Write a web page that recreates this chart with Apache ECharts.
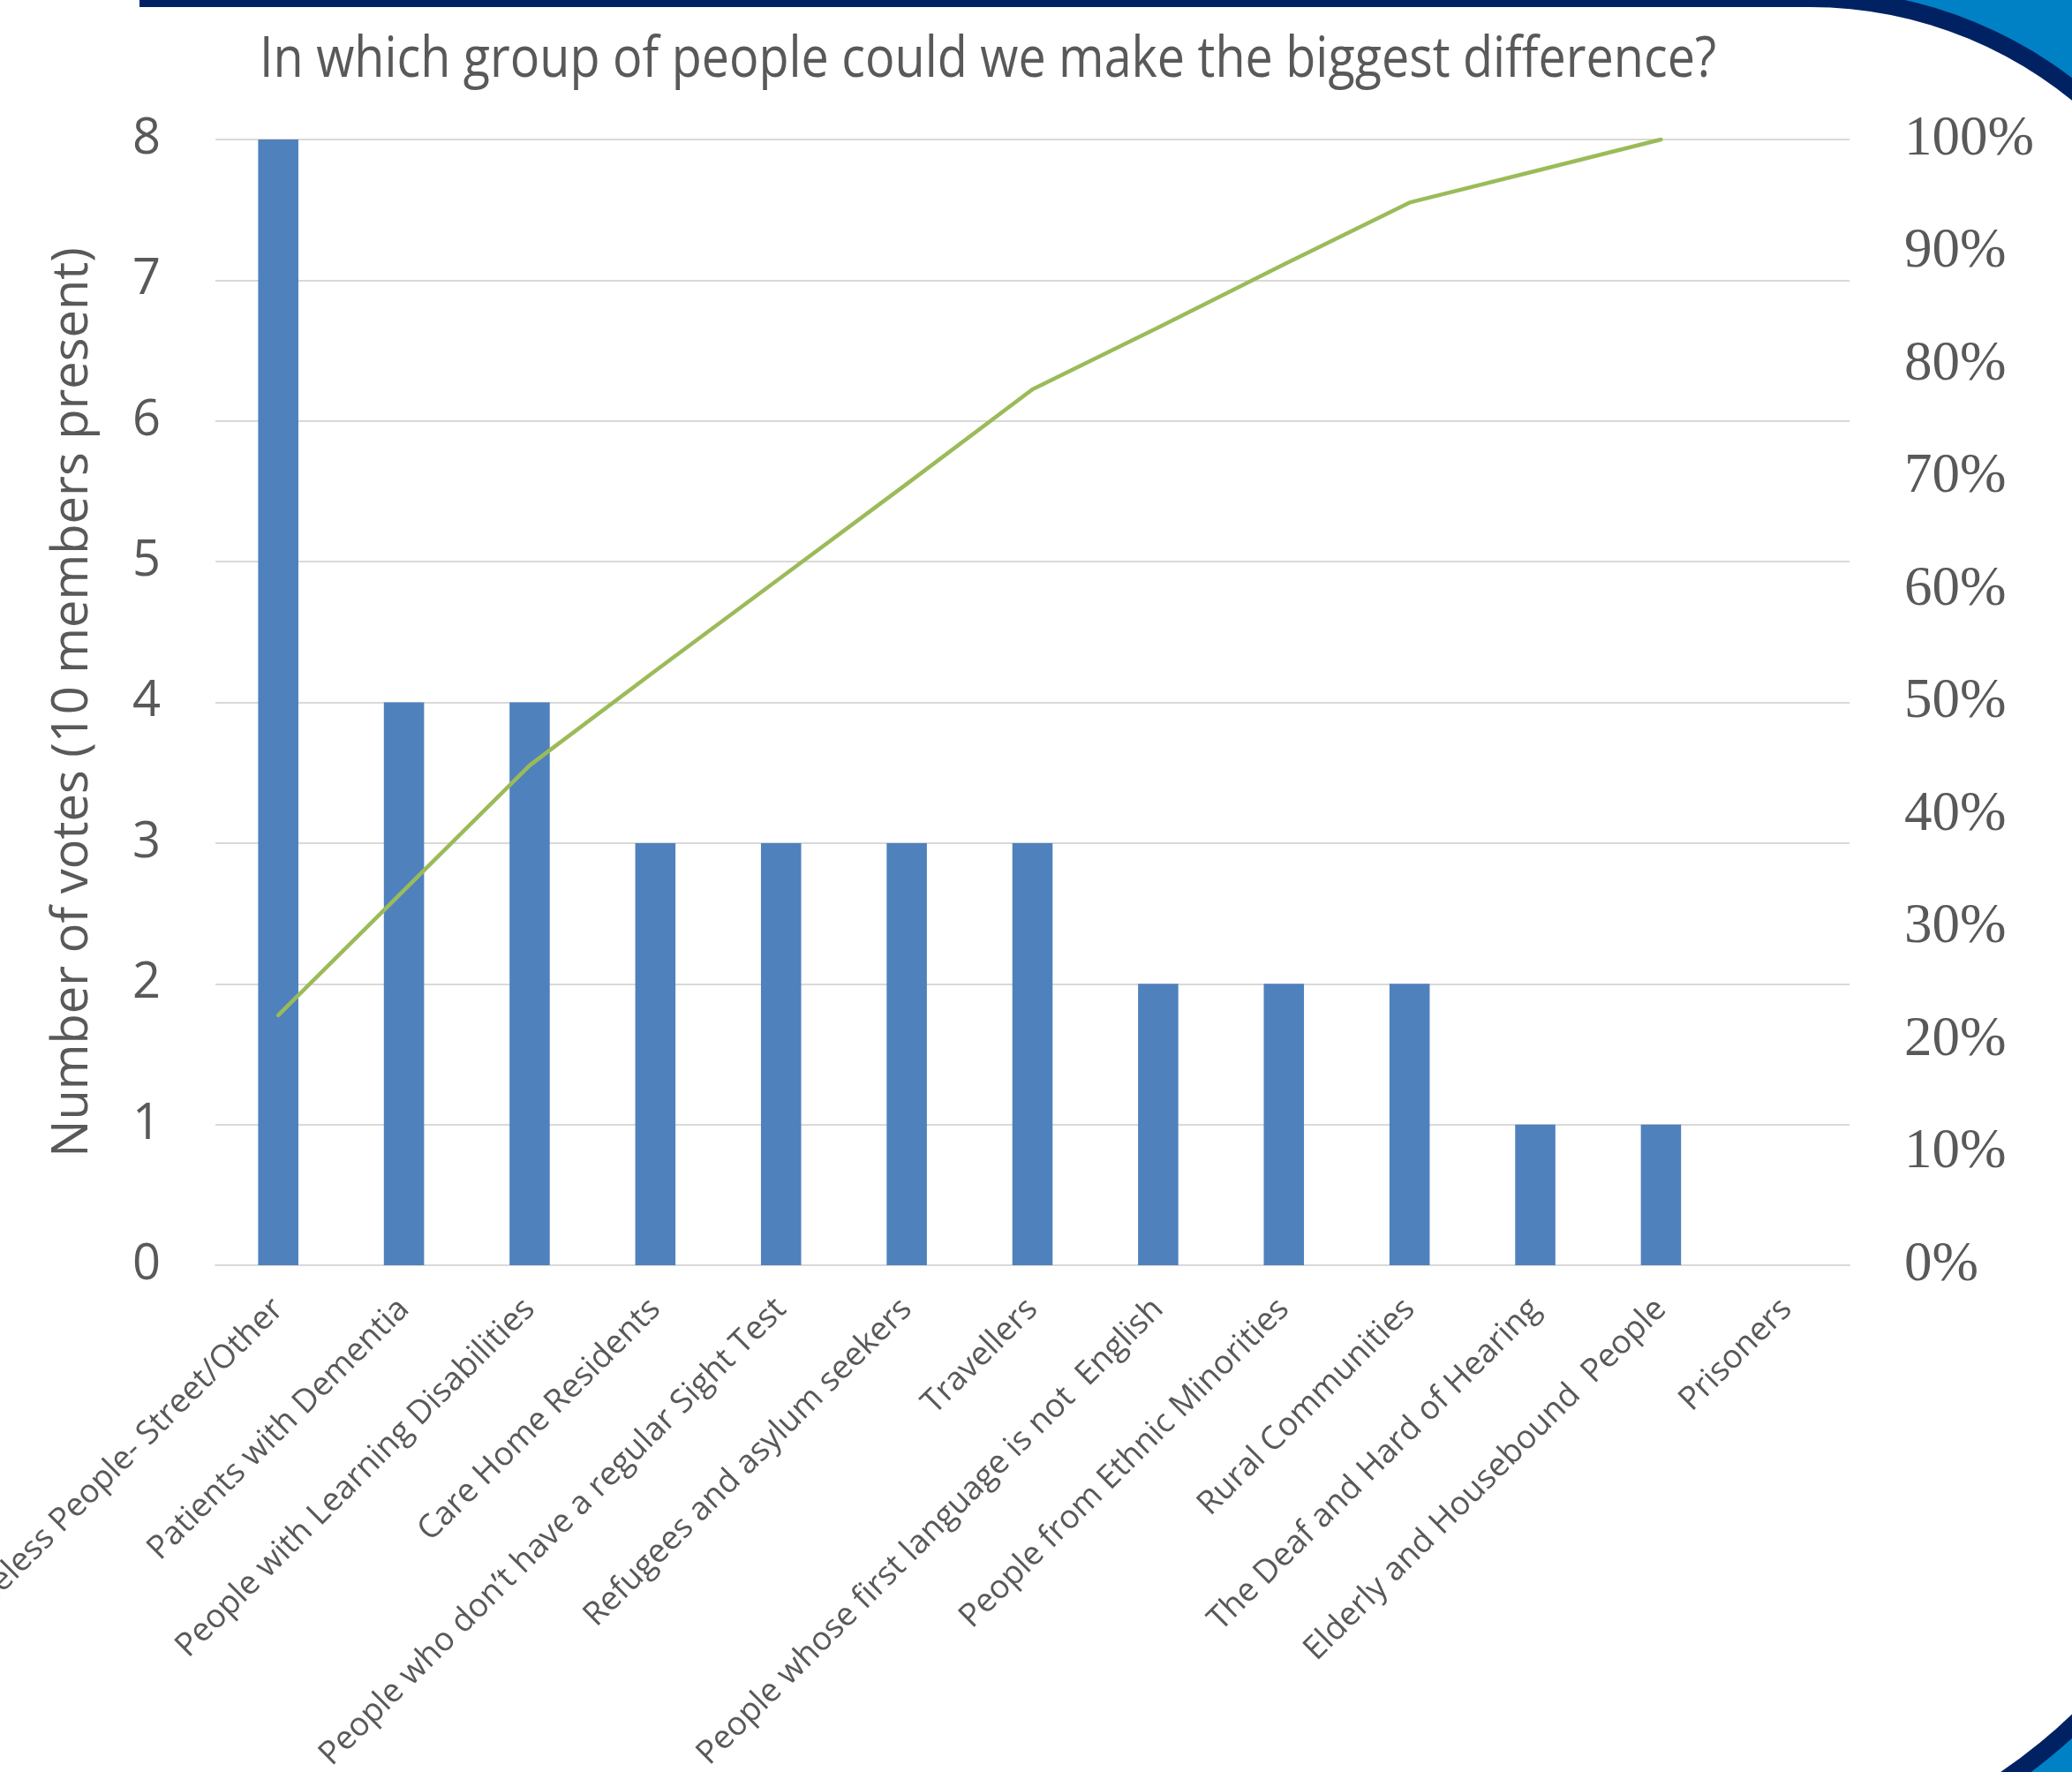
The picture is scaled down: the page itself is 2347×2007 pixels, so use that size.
<!DOCTYPE html>
<html>
<head>
<meta charset="utf-8">
<title>Biggest difference</title>
<script src="https://cdn.jsdelivr.net/npm/echarts@6/dist/echarts.min.js"></script>
<style>
  html, body { margin: 0; padding: 0; background: #fff; }
  #chart { width: 2347px; height: 2007px; }
</style>
</head>
<body>
<div id="chart"></div>
<script>
// groups, in the order of the chart
const categories = [
  "Homeless People- Street/Other",
  "Patients with Dementia",
  "People with Learning Disabilities",
  "Care Home Residents",
  "People who don\u2019t have a regular Sight Test",
  "Refugees and asylum seekers",
  "Travellers",
  "People whose first language is not  English",
  "People from Ethnic Minorities",
  "Rural Communities",
  "The Deaf and Hard of Hearing",
  "Elderly and Housebound  People",
  "Prisoners",
];
// number of votes per group
const votes = [8, 4, 4, 3, 3, 3, 3, 2, 2, 2, 1, 1, 0];
// cumulative share (%), no point for the last group
const cumulativePct = [22.2, 33.3, 44.4, 52.8, 61.1, 69.4, 77.8, 83.3, 88.9, 94.4, 97.2, 100, null];

const titleText = "In which group of people could we make the biggest difference?";
const yName = "Number of votes (10 members present)";

const textColor = "#595959";
const navy = "#002263";
const lightBlue = "#0081c6";

const chart = echarts.init(document.getElementById("chart"), null, { renderer: "canvas" });

let option = {
  backgroundColor: "#ffffff",
  animation: false,
  graphic: [
    // slide frame: top band and rounded corners
    { type: "rect", z: -10, shape: { x: 2050, y: 0, width: 297, height: 478 }, style: { fill: lightBlue } },
    { type: "rect", z: -10, shape: { x: 1930, y: 1510, width: 417, height: 497 }, style: { fill: lightBlue } },
    { type: "rect", z: -9, shape: { x: 158, y: 0, width: 1900, height: 8 }, style: { fill: navy } },
    {
      type: "sector", z: -9,
      shape: { cx: 2050, cy: 478, r0: 0, r: 490, startAngle: -Math.PI / 2, endAngle: 0, clockwise: true },
      style: { fill: navy },
    },
    {
      type: "sector", z: -8,
      shape: { cx: 2050, cy: 478, r0: 0, r: 470, startAngle: -Math.PI / 2, endAngle: 0, clockwise: true },
      style: { fill: "#ffffff" },
    },
    {
      type: "sector", z: -9,
      shape: { cx: 1930, cy: 1510, r0: 0, r: 620, startAngle: 0, endAngle: Math.PI / 2, clockwise: true },
      style: { fill: navy },
    },
    {
      type: "sector", z: -8,
      shape: { cx: 1930, cy: 1510, r0: 0, r: 600, startAngle: 0, endAngle: Math.PI / 2, clockwise: true },
      style: { fill: "#ffffff" },
    },
    {
      type: "text",
      x: 1119,
      y: 69,
      scaleX: 0.87,
      style: {
        text: titleText,
        fontFamily: "Open Sans",
        fontSize: 64,
        fill: textColor,
        align: "center",
        verticalAlign: "middle",
      },
    },
  ],
  grid: {
    left: 244,
    right: 252,
    top: 158,
    bottom: 574,
    containLabel: false,
    outerBoundsMode: "none",
  },
  xAxis: {
    type: "category",
    data: categories,
    axisTick: { show: false },
    axisLine: { lineStyle: { color: "#d9d9d9", width: 2 } },
    axisLabel: {
      interval: 0,
      rotate: 45,
      margin: 44,
      color: textColor,
      fontFamily: "Open Sans",
      fontSize: 37,
    },
  },
  yAxis: [
    {
      type: "value",
      min: 0,
      max: 8,
      interval: 1,
      name: yName,
      nameLocation: "middle",
      nameGap: 133,
      nameTextStyle: { color: textColor, fontFamily: "Open Sans", fontSize: 56 },
      axisLine: { show: false },
      axisTick: { show: false },
      axisLabel: { margin: 62, color: textColor, fontFamily: "Open Sans", fontSize: 56 },
      splitLine: { lineStyle: { color: "#d9d9d9", width: 2 } },
    },
    {
      type: "value",
      position: "right",
      min: 0,
      max: 100,
      interval: 10,
      axisLine: { show: false },
      axisTick: { show: false },
      splitLine: { show: false },
      axisLabel: {
        margin: 62,
        formatter: "{value}%",
        color: textColor,
        fontFamily: "Liberation Serif",
        fontSize: 63,
      },
    },
  ],
  series: [
    {
      name: "Votes",
      type: "bar",
      data: votes,
      barWidth: "32%",
      itemStyle: { color: "#4f81bd" },
    },
    {
      name: "Cumulative",
      type: "line",
      yAxisIndex: 1,
      data: cumulativePct,
      showSymbol: false,
      symbol: "none",
      lineStyle: { color: "#9bbb59", width: 4.5, cap: "round", join: "round" },
      z: 3,
    },
  ],
};

chart.setOption(option);
window.addEventListener("resize", function () {
  chart.resize();
});
</script>
</body>
</html>
